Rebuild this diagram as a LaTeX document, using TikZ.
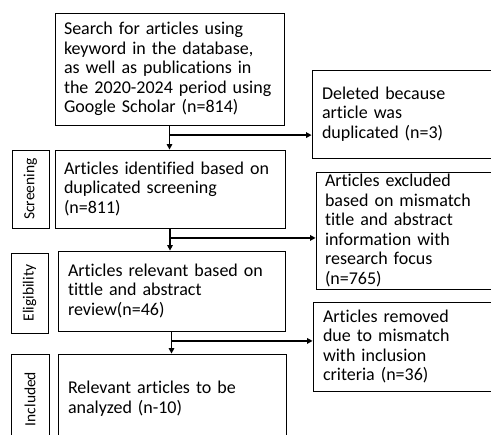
\documentclass[tikz,border=0pt]{standalone}
\usepackage{fontspec}
\setmainfont{Carlito}[Ligatures=NoCommon]
\usetikzlibrary{arrows.meta,calc}
\begin{document}
\begin{tikzpicture}[x=1pt,y=-1pt,
  box/.style={draw, line width=0.8pt, align=left, inner ysep=0pt,
    font=\fontsize{18}{19.6}\selectfont},
  side/.style={draw, line width=0.8pt, inner sep=0pt},
  sidetext/.style={rotate=90, font=\fontsize{15.5}{18}\selectfont},
  conn/.style={line width=1.3pt, -{Triangle[length=5.5pt,width=5.5pt]}}]
\useasboundingbox[fill=white] (0,0) rectangle (491,435);
\clip (0,0) rectangle (491,435);
% main column
\node[box, minimum width=229pt, minimum height=112pt, inner xsep=9pt, text width=211pt] (b1) at (169.5,69)
  {Search for articles using\\keyword in the database,\\as well as publications in\\the 2020-2024 period using\\Google Scholar (n=814)};
\node[box, minimum width=230pt, minimum height=78pt, inner xsep=9pt, text width=212pt] (b2) at (170,189)
  {Articles identified based on\\duplicated screening\\(n=811)};
\node[box, minimum width=227pt, minimum height=80pt, inner xsep=10pt, text width=207pt] (b3) at (171.5,291)
  {Articles relevant based on\\tittle and abstract\\review(n=46)};
\node[box, minimum width=228pt, minimum height=90pt, inner xsep=10pt, text width=208pt] (b4) at (172,399)
  {Relevant articles to be\\analyzed (n-10)};
% right column (runs past the right edge)
\node[box, minimum width=228pt, minimum height=88pt, inner xsep=10pt, text width=208pt] (del) at (426,114)
  {Deleted because\\article was\\duplicated (n=3)};
\node[box, minimum width=224pt, minimum height=117pt, inner xsep=9pt, text width=206pt] (exc) at (428,230.5)
  {Articles excluded\\based on mismatch\\title and abstract\\information with\\research focus\\(n=765)};
\node[box, minimum width=227pt, minimum height=89pt, inner xsep=10pt, text width=207pt] (rem) at (426.5,346.5)
  {Articles removed\\due to mismatch\\with inclusion\\criteria (n=36)};
% stage labels
\node[side, minimum width=37pt, minimum height=78pt] (s1) at (30.5,189) {};
\node[sidetext] (t1) at (s1.center) {Screening};
\node[side, minimum width=37pt, minimum height=80pt] (s2) at (29.5,293) {};
\node[sidetext] (t2) at (s2.center) {Eligibility};
\node[side, minimum width=38pt, minimum height=90pt] (s3) at (30,399) {};
\node[sidetext] (t3) at (s3.center) {Included};
% connectors
\coordinate (j1) at ($(b1.south)!0.4!(b1.south |- b2.north)$);
\coordinate (j2) at ($(b2.south)!0.43!(b2.south |- b3.north)$);
\coordinate (j3) at ($(b3.south)!0.43!(b3.south |- b4.north)$);
\draw[conn] (b1.south) -- (b1.south |- b2.north);
\draw[conn] (j1) -- (j1 -| del.west);
\draw[conn] (b2.south) -- (b2.south |- b3.north);
\draw[conn] (j2) -- (j2 -| exc.west);
\draw[conn] (b3.south) -- (b3.south |- b4.north);
\draw[conn] (j3) -- (j3 -| rem.west);
\end{tikzpicture}
\end{document}
